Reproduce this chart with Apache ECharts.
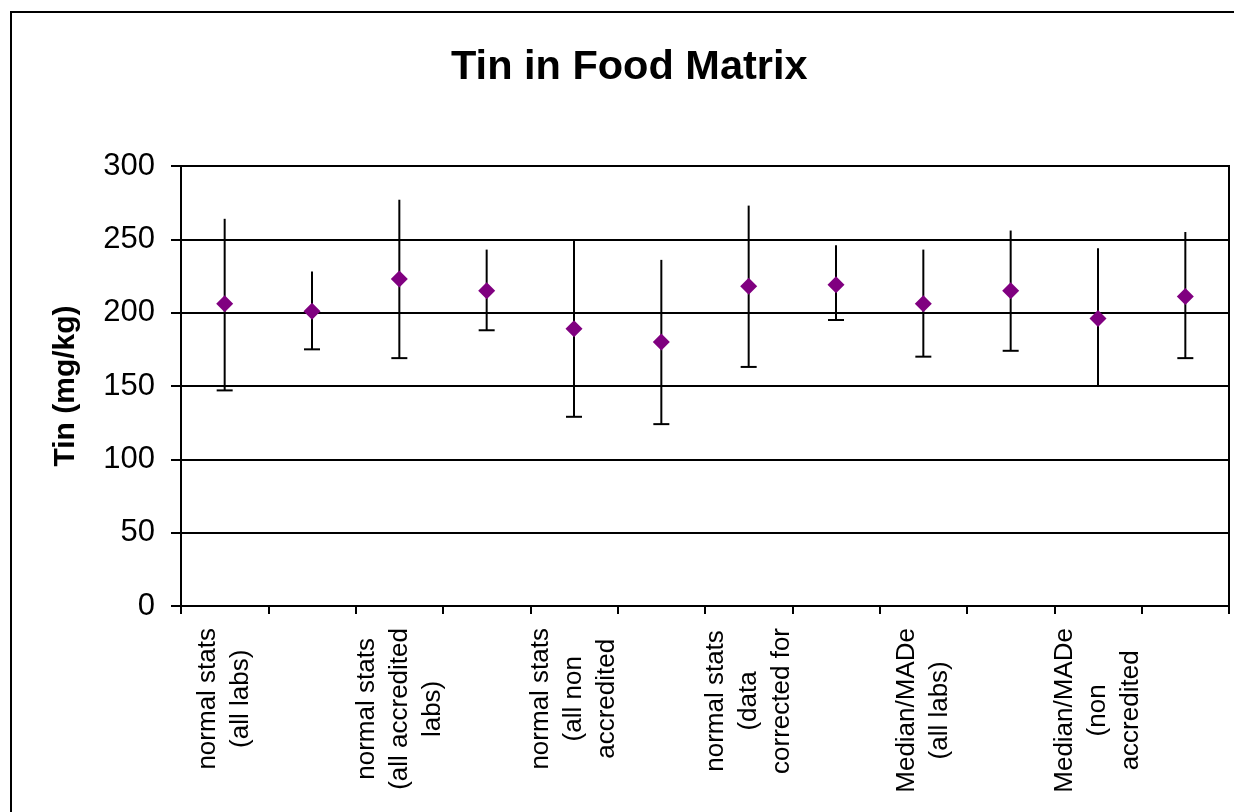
<!DOCTYPE html>
<html>
<head>
<meta charset="utf-8">
<script src="https://cdn.jsdelivr.net/npm/echarts@6/dist/echarts.min.js"></script>
<style>
  html, body { margin: 0; padding: 0; background: #fff; }
  #chart { width: 1234px; height: 812px; }
</style>
</head>
<body>
<div id="chart"></div>
<script>
// labels only drawn on every other category, like the original
const categories = [
  'normal stats\n(all labs)', '',
  'normal stats\n(all accredited\nlabs)', '',
  'normal stats\n(all non\naccredited', '',
  'normal stats\n(data\ncorrected for', '',
  'Median/MADe\n(all labs)', '',
  'Median/MADe\n(non\naccredited', ''
]
const meanValues = [206, 201, 223, 215, 189, 180, 218, 219, 206, 215, 196, 211]
const upperValues = [264, 228, 277, 243, 250, 236, 273, 246, 243, 256, 244, 255]
const lowerValues = [147, 175, 169, 188, 129, 124, 163, 195, 170, 174, 150, 169]
const yTicks = { min: 0, max: 300, interval: 50 }

const chart = echarts.init(document.getElementById('chart'))

const errorData = categories.map((c, i) => [i, lowerValues[i], upperValues[i]])
const pointData = categories.map((c, i) => [i, meanValues[i]])
const font = 'Liberation Sans, Arial, sans-serif'

const option = {
  animation: false,
  textStyle: { fontFamily: font, color: '#000' },
  title: {
    text: 'Tin in Food Matrix',
    left: 451,
    top: 47,
    padding: 0,
    textStyle: { fontSize: 41.5, fontWeight: 'bold', color: '#000', fontFamily: font }
  },
  graphic: [
    {
      type: 'rect',
      shape: { x: 11, y: 12, width: 1260, height: 840 },
      style: { fill: 'none', stroke: '#000', lineWidth: 2 },
      silent: true
    }
  ],
  grid: {
    left: 181,
    top: 166,
    right: 5,
    bottom: 206,
    show: true,
    borderColor: '#000',
    borderWidth: 2
  },
  xAxis: {
    type: 'category',
    data: categories,
    boundaryGap: true,
    axisLine: { show: true, lineStyle: { color: '#000', width: 2 } },
    axisTick: { show: true, interval: 0, length: 8, lineStyle: { color: '#000', width: 2 } },
    axisLabel: {
      interval: 0,
      rotate: 90,
      margin: 22,
      lineHeight: 33,
      fontSize: 26,
      color: '#000',
      formatter: function (v) {
        if (!v) return ''
        return v.split('\n').map(s => '{c|' + s + '}').join('\n')
      },
      rich: {
        c: { align: 'center', fontSize: 26, lineHeight: 33, color: '#000', fontFamily: font }
      }
    },
    splitLine: { show: false }
  },
  yAxis: {
    type: 'value',
    min: yTicks.min,
    max: yTicks.max,
    interval: yTicks.interval,
    name: 'Tin (mg/kg)',
    nameLocation: 'middle',
    nameGap: 100,
    nameTextStyle: { fontSize: 30, fontWeight: 'bold', color: '#000', fontFamily: font },
    axisLine: { show: true, lineStyle: { color: '#000', width: 2 } },
    axisTick: { show: true, inside: false, length: 10, lineStyle: { color: '#000', width: 2 } },
    axisLabel: { fontSize: 31, color: '#000', margin: 26 },
    splitLine: { show: true, lineStyle: { color: '#000', width: 2 } }
  },
  series: [
    {
      name: 'error',
      type: 'custom',
      data: errorData,
      encode: { x: 0, y: [1, 2] },
      z: 2,
      renderItem: function (params, api) {
        const idx = api.value(0)
        const low = api.coord([idx, api.value(1)])
        const high = api.coord([idx, api.value(2)])
        const half = 8
        const style = { stroke: '#000', lineWidth: 2 }
        return {
          type: 'group',
          children: [
            { type: 'line', shape: { x1: low[0], y1: low[1], x2: high[0], y2: high[1] }, style: style },
            { type: 'line', shape: { x1: low[0] - half, y1: low[1], x2: low[0] + half, y2: low[1] }, style: style }
          ]
        }
      }
    },
    {
      name: 'mean',
      type: 'scatter',
      data: pointData,
      symbol: 'diamond',
      symbolSize: 17,
      z: 3,
      itemStyle: { color: '#800080', opacity: 1 }
    }
  ]
}

chart.setOption(option)
</script>
</body>
</html>
